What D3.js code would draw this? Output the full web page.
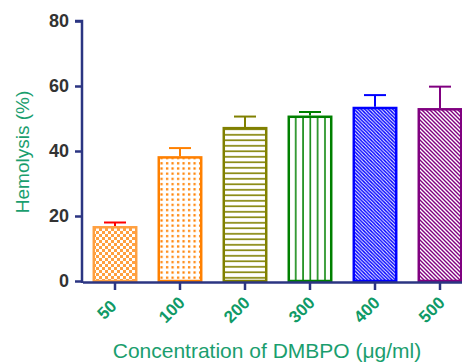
<!DOCTYPE html>
<html>
<head>
<meta charset="utf-8">
<script src="https://cdn.jsdelivr.net/npm/d3@7"></script>
<style>
  body { margin: 0; background: #fff; }
  text { font-family: "Liberation Sans", Arial, sans-serif; }
</style>
</head>
<body>
<div id="chart"></div>
<script>
// Hemolysis by DMBPO concentration
const categories = ["50", "100", "200", "300", "400", "500"];
const means = [16.9, 38.4, 47.4, 50.9, 53.6, 53.2];
const errors = [1.1, 2.5, 3.2, 1.1, 3.6, 6.6];
const yTicks = [0, 20, 40, 60, 80];
const colors = ["#FFA040", "#FF8000", "#808000", "#008000", "#0000FF", "#800080"];
const errColors = ["#FF0000", "#FF8000", "#808000", "#008000", "#0000FF", "#800080"];

const width = 462, height = 363;
const svg = d3.select("#chart").append("svg").attr("width", width).attr("height", height);

const x = d3.scaleBand().domain(categories).range([82.5, 472.5]).paddingInner(0.31).paddingOuter(0.155);
const y = d3.scaleLinear().domain([0, 80]).range([281, 21]);

// Fill patterns, one per bar
const defs = svg.append("defs");
function pat(id, w, h, draw) {
  const p = defs.append("pattern").attr("id", id).attr("patternUnits", "userSpaceOnUse")
    .attr("width", w).attr("height", h);
  p.append("rect").attr("width", w).attr("height", h).attr("fill", "#fff");
  draw(p);
}
pat("p0", 6, 6, p => {
  p.append("rect").attr("width", 6).attr("height", 6).attr("fill", colors[0]);
  p.append("rect").attr("x", 0).attr("y", 0).attr("width", 3).attr("height", 3).attr("fill", "#fff");
  p.append("rect").attr("x", 3).attr("y", 3).attr("width", 3).attr("height", 3).attr("fill", "#fff");
});
pat("p1", 5.5, 5.2, p => {
  p.append("rect").attr("x", 1).attr("y", 1).attr("width", 2.2).attr("height", 2.2).attr("fill", colors[1]);
});
pat("p2", 6, 5.5, p => {
  p.append("rect").attr("y", 2).attr("width", 6).attr("height", 1.6).attr("fill", colors[2]);
});
pat("p3", 7.3, 6, p => {
  p.append("rect").attr("x", 3).attr("width", 1.5).attr("height", 6).attr("fill", colors[3]);
});
pat("p4", 3.5, 3.5, p => {
  p.append("path").attr("d", "M-1,-1 L4.5,4.5 M-1,2.5 L1,4.5 M2.5,-1 L4.5,1").attr("stroke", colors[4]).attr("stroke-width", 1.4);
});
pat("p5", 4, 4, p => {
  p.append("path").attr("d", "M-1,-1 L5,5 M-1,3 L1,5 M3,-1 L5,1").attr("stroke", colors[5]).attr("stroke-width", 1.4);
});

// Bars
svg.selectAll("rect.bar").data(categories).enter().append("rect")
  .attr("class", "bar")
  .attr("x", d => x(d) + 1.2)
  .attr("width", x.bandwidth() - 2.4)
  .attr("y", (d, i) => y(means[i]) + 1.2)
  .attr("height", (d, i) => y(0) - y(means[i]) - 1.2)
  .attr("fill", (d, i) => `url(#p${i})`)
  .attr("stroke", (d, i) => colors[i])
  .attr("stroke-width", 2.5);

// Error bars (upper only)
const eb = svg.selectAll("g.err").data(categories).enter().append("g").attr("class", "err")
  .attr("stroke", (d, i) => errColors[i]).attr("stroke-width", 2);
eb.append("line")
  .attr("x1", d => x(d) + x.bandwidth() / 2).attr("x2", d => x(d) + x.bandwidth() / 2)
  .attr("y1", (d, i) => y(means[i])).attr("y2", (d, i) => y(means[i] + errors[i]));
eb.append("line")
  .attr("x1", d => x(d) + x.bandwidth() / 2 - 11).attr("x2", d => x(d) + x.bandwidth() / 2 + 11)
  .attr("y1", (d, i) => y(means[i] + errors[i])).attr("y2", (d, i) => y(means[i] + errors[i]));

// Axes
const axisColor = "#2B3582";
const yAxis = svg.append("g").attr("transform", "translate(82,0)")
  .call(d3.axisLeft(y).tickValues(yTicks).tickSize(7).tickPadding(6));
const xAxis = svg.append("g").attr("transform", "translate(0,282)")
  .call(d3.axisBottom(x).tickSize(8).tickSizeOuter(0).tickPadding(6));
[yAxis, xAxis].forEach(g => {
  g.select(".domain").attr("stroke", axisColor).attr("stroke-width", 2.5);
  g.selectAll(".tick line").attr("stroke", axisColor).attr("stroke-width", 2.5);
});
yAxis.select(".domain").attr("d", "M-7,21H0V283");
yAxis.selectAll(".tick text")
  .attr("font-family", "'Liberation Sans', Arial, sans-serif")
  .attr("font-size", 18).attr("font-weight", "bold").attr("fill", "#333");
// rotated labels centred a little left of and below each tick
xAxis.selectAll(".tick text")
  .attr("font-family", "'Liberation Sans', Arial, sans-serif")
  .attr("font-size", 17).attr("font-weight", "bold").attr("fill", "#109a66")
  .attr("text-anchor", "middle")
  .attr("x", null).attr("y", null).attr("dy", null)
  .attr("dominant-baseline", "central")
  .attr("transform", "translate(-8,28) rotate(-45)");

// Axis titles
svg.append("text")
  .attr("transform", "translate(29,152) rotate(-90)")
  .attr("text-anchor", "middle")
  .attr("font-size", 19).attr("fill", "#1a9e6e")
  .text("Hemolysis (%)");
svg.append("text")
  .attr("x", 267).attr("y", 358)
  .attr("text-anchor", "middle")
  .attr("font-size", 21).attr("fill", "#1a9e6e")
  .text("Concentration of DMBPO (μg/ml)");
</script>
</body>
</html>
